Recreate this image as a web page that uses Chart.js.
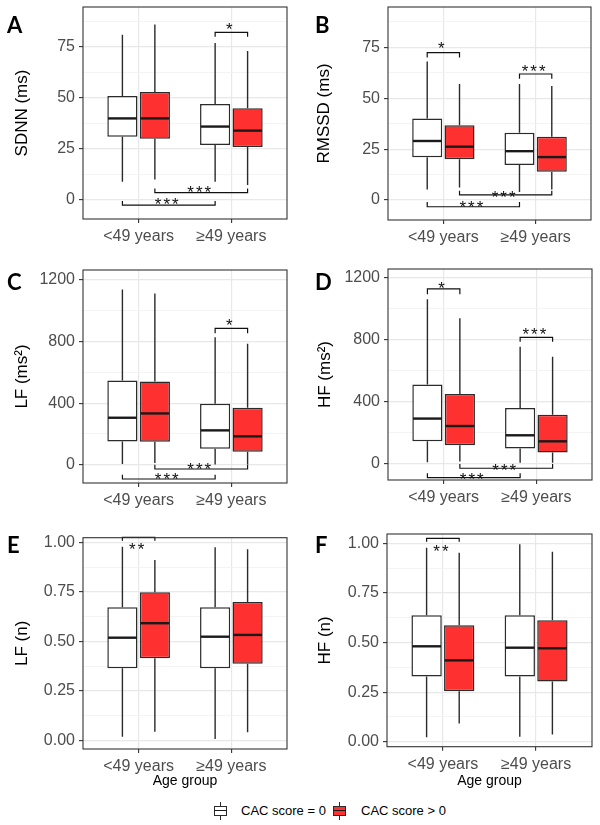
<!DOCTYPE html>
<html>
<head>
<meta charset="utf-8">
<script src="https://cdn.jsdelivr.net/npm/chart.js@4.4.1/dist/chart.umd.min.js"></script>
<style>
html,body{margin:0;padding:0;background:#fff}
body{position:relative;width:600px;height:825px;overflow:hidden;font-family:"Liberation Sans",Arial,sans-serif}
canvas{position:absolute}
.tag{position:absolute;font-family:Lato,"Open Sans",sans-serif;font-weight:700;font-size:22px;line-height:22px;color:#000}
.kbox{position:absolute;width:13px;height:10px;border:1px solid #2B2B2B;box-sizing:border-box}
.kline{position:absolute;background:#2B2B2B}
.ktext{position:absolute;font-size:13px;line-height:16px;color:#000;white-space:nowrap}
</style>
</head>
<body>
<script>
// ---------- DATA ----------
const categories = ['<49 years', '\u226549 years'];
const seriesLabels = ['CAC score = 0', 'CAC score > 0'];

// five-number summaries per age group: [lower whisker, Q1, median, Q3, upper whisker]
const sdnnZero  = [[9, 31, 40, 51, 81], [9, 27, 36, 47, 77]];
const sdnnPos   = [[10, 30, 40, 53, 86], [7.4, 26, 34, 45, 73]];
const rmssdZero = [[5.2, 21, 29, 40, 68], [4, 17.2, 24, 33, 57]];
const rmssdPos  = [[6.1, 20, 26.2, 36.7, 57], [5.2, 13.9, 21.1, 31.1, 56]];
const lfZero    = [[4, 151, 305, 547, 1139], [2, 104, 223, 396, 828]];
const lfPos     = [[11, 149, 333, 540, 1113], [2, 84, 184, 370, 785]];
const hfZero    = [[6, 142, 289, 510, 1060], [4, 95, 181, 358, 754]];
const hfPos     = [[11, 116, 241, 448, 937], [4, 69, 142, 314, 689]];
const lfnZero   = [[0.020, 0.365, 0.519, 0.672, 0.978], [0.008, 0.365, 0.524, 0.672, 0.975]];
const lfnPos    = [[0.045, 0.415, 0.592, 0.748, 0.911], [0.042, 0.388, 0.533, 0.699, 0.965]];
const hfnZero   = [[0.022, 0.329, 0.481, 0.637, 0.978], [0.025, 0.329, 0.474, 0.637, 0.995]];
const hfnPos    = [[0.092, 0.254, 0.410, 0.587, 0.953], [0.037, 0.304, 0.471, 0.612, 0.958]];

// axis ticks and ranges
const msTicks = [0, 25, 50, 75];
const msTickLabels = ['0', '25', '50', '75'];
const powerTicks = [0, 400, 800, 1200];
const powerTickLabels = ['0', '400', '800', '1200'];
const normTicks = [0, 0.25, 0.5, 0.75, 1];
const normTickLabels = ['0.00', '0.25', '0.50', '0.75', '1.00'];
const sdnnRange  = [-9.3, 94.6];
const rmssdRange = [-9.8, 94.8];
const lfRange    = [-119, 1265];
const hfRange    = [-108, 1256];
const lfnRange   = [-0.042, 1.023];
const hfnRange   = [-0.025, 1.047];

// significance brackets: from/to = [age group index, series index]
const sdnnBrackets = [
  {from: [1, 0], to: [1, 1], y: 82.2, tip: 80, text: '*', ty: 85.8},
  {from: [0, 1], to: [1, 1], y: 3.6, tip: 5.6, text: '***', ty: 5.7},
  {from: [0, 0], to: [1, 0], y: -2.5, tip: -0.5, text: '***', ty: 0}
];
const rmssdBrackets = [
  {from: [0, 0], to: [0, 1], y: 72.4, tip: 70, text: '*', ty: 76.6},
  {from: [1, 0], to: [1, 1], y: 61.9, tip: 59.6, text: '***', ty: 65.5},
  {from: [0, 1], to: [1, 1], y: 2.5, tip: 4.6, text: '***', ty: 3.6},
  {from: [0, 0], to: [1, 0], y: -3.3, tip: -1, text: '***', ty: -1.3}
];
const lfBrackets = [
  {from: [1, 0], to: [1, 1], y: 886, tip: 854, text: '*', ty: 930},
  {from: [0, 1], to: [1, 1], y: -28, tip: 0, text: '***', ty: -6},
  {from: [0, 0], to: [1, 0], y: -93, tip: -65, text: '***', ty: -71}
];
const hfBrackets = [
  {from: [0, 0], to: [0, 1], y: 1127, tip: 1092, text: '*', ty: 1159},
  {from: [1, 0], to: [1, 1], y: 814, tip: 786, text: '***', ty: 862},
  {from: [0, 1], to: [1, 1], y: -32, tip: -4, text: '***', ty: -17},
  {from: [0, 0], to: [1, 0], y: -93, tip: -65, text: '***', ty: -75}
];
const lfnBrackets = [
  {from: [0, 0], to: [0, 1], y: 1.025, tip: 1.008, text: '**', ty: 0.987}
];
const hfnBrackets = [
  {from: [0, 0], to: [0, 1], y: 1.025, tip: 1.008, text: '**', ty: 0.983}
];

// ---------- LAYOUT ----------
const FONT = '"Liberation Sans", Arial, sans-serif';
Chart.defaults.font.family = FONT;
const INK = '#2B2B2B';

const panels = [
  {tag: 'A', zero: sdnnZero, pos: sdnnPos, range: sdnnRange, ticks: msTicks, labels: msTickLabels, title: 'SDNN (ms)', brackets: sdnnBrackets,
   box: {x: 0, y: 0, w: 300, h: 262}, area: {l: 83, t: 7, r: 287, b: 219}, tpad: 11.8, xTitle: false, tagPos: [7, 13.6]},
  {tag: 'B', zero: rmssdZero, pos: rmssdPos, range: rmssdRange, ticks: msTicks, labels: msTickLabels, title: 'RMSSD (ms)', brackets: rmssdBrackets,
   box: {x: 300, y: 0, w: 300, h: 262}, area: {l: 388, t: 7, r: 591, b: 220}, tpad: 14.5, xTitle: false, tagPos: [315, 13.6]},
  {tag: 'C', zero: lfZero, pos: lfPos, range: lfRange, ticks: powerTicks, labels: powerTickLabels, title: 'LF (ms\u00B2)', brackets: lfBrackets,
   box: {x: 0, y: 262, w: 300, h: 263}, area: {l: 83, t: 270, r: 287, b: 483}, tpad: 11.8, xTitle: false, tagPos: [7, 270.6]},
  {tag: 'D', zero: hfZero, pos: hfPos, range: hfRange, ticks: powerTicks, labels: powerTickLabels, title: 'HF (ms\u00B2)', brackets: hfBrackets,
   box: {x: 300, y: 262, w: 300, h: 263}, area: {l: 388, t: 269, r: 592, b: 480}, tpad: 15.5, xTitle: false, tagPos: [315, 270.6]},
  {tag: 'E', zero: lfnZero, pos: lfnPos, range: lfnRange, ticks: normTicks, labels: normTickLabels, title: 'LF (n)', brackets: lfnBrackets,
   box: {x: 0, y: 525, w: 300, h: 270}, area: {l: 83, t: 537.7, r: 287, b: 749}, tpad: 11.8, xTitle: true, tagPos: [7, 533.6]},
  {tag: 'F', zero: hfnZero, pos: hfnPos, range: hfnRange, ticks: normTicks, labels: normTickLabels, title: 'HF (n)', brackets: hfnBrackets,
   box: {x: 300, y: 525, w: 300, h: 270}, area: {l: 387, t: 534, r: 592, b: 746.7}, tpad: 14.8, xTitle: true, tagPos: [315, 533.6]}
];

function buildTicks(majors, min, max) {
  const half = (majors[1] - majors[0]) / 2;
  const out = [];
  for (let k = -1; k < 100; k++) {
    const v = majors[0] + k * half;
    if (v > max + 1e-9) break;
    if (v >= min - 1e-9) out.push(v);
  }
  return out;
}

function makePlugin(brackets) {
  return {
    id: 'boxExtras',
    afterDatasetsDraw(chart) {
      const ctx = chart.ctx, ys = chart.scales.y;
      ctx.save();
      chart.data.datasets.forEach((ds, di) => {
        const meta = chart.getDatasetMeta(di);
        meta.data.forEach((el, j) => {
          const s = ds.stats[j];
          const x = el.x, w = el.width;
          ctx.strokeStyle = INK;
          ctx.lineWidth = 1.4;
          ctx.beginPath();
          ctx.moveTo(x, ys.getPixelForValue(s[3]));
          ctx.lineTo(x, ys.getPixelForValue(s[4]));
          ctx.moveTo(x, ys.getPixelForValue(s[1]));
          ctx.lineTo(x, ys.getPixelForValue(s[0]));
          ctx.stroke();
          const ym = ys.getPixelForValue(s[2]);
          ctx.strokeStyle = '#1A1A1A';
          ctx.lineWidth = 2.4;
          ctx.beginPath();
          ctx.moveTo(x - w / 2 + 0.7, ym);
          ctx.lineTo(x + w / 2 - 0.7, ym);
          ctx.stroke();
        });
      });
      // significance brackets
      brackets.forEach(b => {
        const xa = chart.getDatasetMeta(b.from[1]).data[b.from[0]].x;
        const xb = chart.getDatasetMeta(b.to[1]).data[b.to[0]].x;
        const yl = ys.getPixelForValue(b.y), yt = ys.getPixelForValue(b.tip);
        ctx.strokeStyle = '#111111';
        ctx.lineWidth = 1.2;
        ctx.beginPath();
        ctx.moveTo(xa, yt); ctx.lineTo(xa, yl); ctx.lineTo(xb, yl); ctx.lineTo(xb, yt);
        ctx.stroke();
        ctx.fillStyle = '#111111';
        ctx.font = '17px ' + FONT;
        ctx.textAlign = 'center';
        ctx.textBaseline = 'alphabetic';
        try { ctx.letterSpacing = '2px'; } catch (e) {}
        ctx.fillText(b.text, (xa + xb) / 2 - 1, ys.getPixelForValue(b.ty) + 0.58 * 17);
        try { ctx.letterSpacing = '0px'; } catch (e) {}
      });
      ctx.restore();
    },
    afterDraw(chart) {
      const a = chart.chartArea, ctx = chart.ctx;
      ctx.save();
      ctx.strokeStyle = '#333333';
      ctx.lineWidth = 1.1;
      ctx.strokeRect(a.left, a.top, a.right - a.left, a.bottom - a.top);
      ctx.restore();
    }
  };
}

function makePanel(p) {
  const cv = document.createElement('canvas');
  cv.width = p.box.w; cv.height = p.box.h;
  cv.style.left = p.box.x + 'px'; cv.style.top = p.box.y + 'px';
  cv.style.width = p.box.w + 'px'; cv.style.height = p.box.h + 'px';
  document.body.appendChild(cv);

  const yTicks = buildTicks(p.ticks, p.range[0], p.range[1]);
  const majorIdx = v => p.ticks.findIndex(m => Math.abs(m - v) < 1e-9);
  const yWidth = p.area.l - p.box.x;
  const xHeight = p.box.y + p.box.h - p.area.b;

  const ds = (label, stats, fill) => ({
    label, stats,
    data: stats.map((s, i) => ({x: i + 1, y: [s[1], s[3]]})),
    backgroundColor: fill, borderColor: INK, borderWidth: 1.5, borderSkipped: false,
    categoryPercentage: 0.7, barPercentage: 0.93
  });

  new Chart(cv, {
    type: 'bar',
    data: {datasets: [ds(seriesLabels[0], p.zero, '#FFFFFF'), ds(seriesLabels[1], p.pos, '#FF3030')]},
    options: {
      responsive: false, animation: false, maintainAspectRatio: false,
      layout: {padding: {left: 0, right: p.box.x + p.box.w - p.area.r, top: p.area.t - p.box.y, bottom: 0}},
      plugins: {legend: {display: false}, tooltip: {enabled: false}},
      scales: {
        x: {
          type: 'linear', min: 0.4, max: 2.6, offset: false,
          afterBuildTicks: s => { s.ticks = categories.map((c, i) => ({value: i + 1})); },
          afterFit: s => { s.height = xHeight; s.paddingLeft = 0; s.paddingRight = 0; },
          ticks: {callback: v => categories[Math.round(v) - 1], font: {size: 16}, color: '#4D4D4D', padding: 4, autoSkip: false, maxRotation: 0},
          grid: {offset: false, color: '#E8E8E8', lineWidth: 1.2, tickColor: '#333333', tickLength: 4, tickWidth: 1.1},
          border: {display: false},
          title: {display: p.xTitle, text: 'Age group', font: {size: 14}, color: '#000', padding: {top: 0, bottom: 5}}
        },
        y: {
          type: 'linear', min: p.range[0], max: p.range[1],
          afterBuildTicks: s => { s.ticks = yTicks.map(v => ({value: v})); },
          afterFit: s => { s.width = yWidth; s.paddingTop = 0; s.paddingBottom = 0; },
          ticks: {callback: v => { const i = majorIdx(v); return i >= 0 ? p.labels[i] : ''; }, font: {size: 16}, color: '#4D4D4D', padding: 4, autoSkip: false},
          grid: {
            color: c => (c.tick && majorIdx(c.tick.value) >= 0) ? '#E8E8E8' : '#F1F1F1',
            lineWidth: c => (c.tick && majorIdx(c.tick.value) >= 0) ? 1.2 : 0.8,
            tickColor: c => (c.tick && majorIdx(c.tick.value) >= 0) ? '#333333' : 'rgba(0,0,0,0)',
            tickLength: 4, tickWidth: 1.1
          },
          border: {display: false},
          title: {display: true, text: p.title, font: {size: 17}, color: '#000', padding: {top: p.tpad, bottom: 0}}
        }
      }
    },
    plugins: [makePlugin(p.brackets)]
  });

  const t = document.createElement('div');
  t.className = 'tag';
  t.textContent = p.tag;
  t.style.left = p.tagPos[0] + 'px';
  t.style.top = p.tagPos[1] + 'px';
  document.body.appendChild(t);
}

panels.forEach(makePanel);

// ---------- LEGEND ----------
function addDiv(cls, css, text) {
  const d = document.createElement('div');
  d.className = cls;
  Object.assign(d.style, css);
  if (text) d.textContent = text;
  document.body.appendChild(d);
  return d;
}
function legendKey(left, fill, label, textLeft) {
  addDiv('kline', {left: (left + 6) + 'px', top: '802px', width: '1px', height: '4px'});
  addDiv('kline', {left: (left + 6) + 'px', top: '816px', width: '1px', height: '4px'});
  addDiv('kbox', {left: left + 'px', top: '806px', background: fill});
  addDiv('kline', {left: left + 'px', top: '810px', width: '13px', height: '1.3px', background: '#1A1A1A'});
  addDiv('ktext', {left: textLeft + 'px', top: '803px'}, label);
}
legendKey(214, '#FFFFFF', seriesLabels[0], 241);
legendKey(333, '#FF3030', seriesLabels[1], 361);
</script>
</body>
</html>
